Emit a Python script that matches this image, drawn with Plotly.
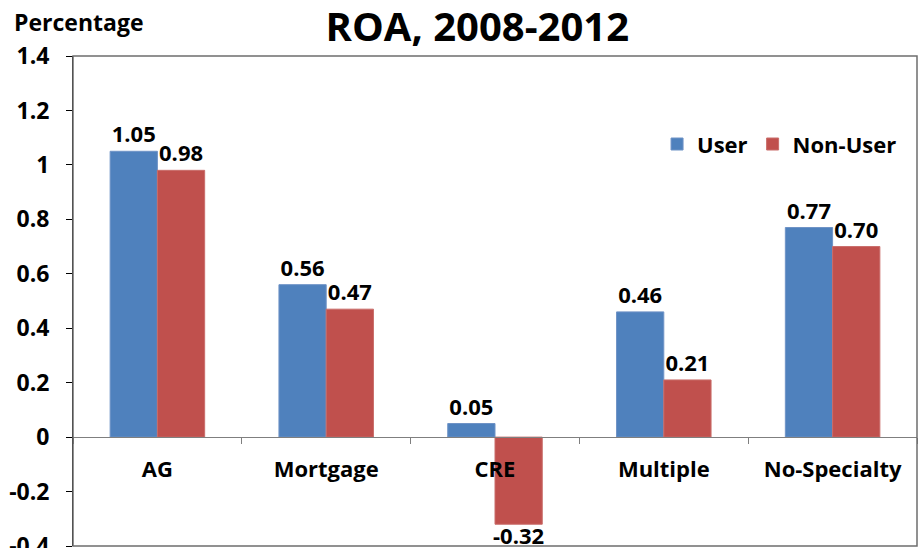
import plotly.graph_objects as go

# ROA by specialty group, 2008-2012
categories = ["AG", "Mortgage", "CRE", "Multiple", "No-Specialty"]
user_roa = [1.05, 0.56, 0.05, 0.46, 0.77]
nonuser_roa = [0.98, 0.47, -0.32, 0.21, 0.70]

y_min, y_max = -0.4, 1.4
y_ticks = [-0.4, -0.2, 0, 0.2, 0.4, 0.6, 0.8, 1, 1.2, 1.4]
y_tick_text = ["-0.4", "-0.2", "0", "0.2", "0.4", "0.6", "0.8", "1", "1.2", "1.4"]

FONT = "Open Sans"
BLUE = "#4F81BD"
RED = "#C0504D"
LABEL_SIZE = 22
BARGAP = 0.44

W, H = 918, 548
MARGIN = dict(l=73, r=1, t=56, b=2)


def bold(size):
    return dict(family=FONT, size=size, color="black", weight="bold")


def fmt(v):
    return f"{v:.2f}"


fig = go.Figure()
fig.add_trace(go.Bar(
    name="User", x=categories, y=user_roa,
    marker=dict(color=BLUE, line=dict(color="#6f93c6", width=1)),
    text=[fmt(v) for v in user_roa], textposition="outside",
    textfont=bold(LABEL_SIZE), cliponaxis=False, constraintext="none",
))
# negative values get their label as an annotation hugging the bar end,
# so it stays clear of the bottom edge
fig.add_trace(go.Bar(
    name="Non-User", x=categories, y=nonuser_roa,
    marker=dict(color=RED, line=dict(color="#c96d6a", width=1)),
    text=[fmt(v) if v >= 0 else "" for v in nonuser_roa], textposition="outside",
    textfont=bold(LABEL_SIZE), cliponaxis=False, constraintext="none",
))

plot_w = W - MARGIN["l"] - MARGIN["r"]
cat_w = plot_w / len(categories)
second_bar_offset = (1 - BARGAP) * cat_w / 4  # centre of 2nd bar in a group of 2

neg_labels = [
    dict(text=fmt(v), x=c, y=v, xref="x", yref="y", xshift=second_bar_offset,
         yanchor="top", yshift=6, showarrow=False, font=bold(LABEL_SIZE))
    for c, v in zip(categories, nonuser_roa) if v < 0
]

# category axis sits on the zero line
zero_pos = (0 - y_min) / (y_max - y_min)

fig.update_layout(
    width=W, height=H,
    margin=dict(**MARGIN, autoexpand=False),
    paper_bgcolor="white", plot_bgcolor="white",
    font=bold(LABEL_SIZE),
    barmode="group", bargap=BARGAP, bargroupgap=0,
    showlegend=True,
    legend=dict(orientation="h", x=0.692, y=0.82, xanchor="left", yanchor="middle",
                font=bold(LABEL_SIZE), bgcolor="rgba(0,0,0,0)",
                itemwidth=30, traceorder="normal"),
    title=dict(text="ROA, 2008-2012", x=0.52, xanchor="center", y=0.95, yanchor="middle",
               font=bold(40)),
    xaxis=dict(
        anchor="free", position=zero_pos, automargin=False,
        showline=True, linecolor="#7f7f7f", linewidth=1,
        ticks="outside", tickson="boundaries", ticklen=6, tickcolor="#7f7f7f",
        ticklabelstandoff=12,
        showgrid=False, zeroline=False,
        tickfont=bold(LABEL_SIZE),
        layer="above traces",
    ),
    yaxis=dict(
        range=[y_min, y_max], tickvals=y_ticks, ticktext=y_tick_text,
        automargin=False,
        showline=True, linecolor="black", linewidth=1,
        ticks="outside", ticklen=6, tickcolor="black",
        ticklabelstandoff=12,
        showgrid=False, zeroline=False, ticklabeloverflow="allow",
        tickfont=bold(23),
    ),
    shapes=[dict(type="rect", xref="x domain", yref="y domain", x0=0, x1=1, y0=0, y1=1,
                 line=dict(color="#6e6e6e", width=1.5), layer="above")],
    annotations=[dict(text="Percentage", xref="paper", yref="paper", x=-0.072, y=1.0,
                      xanchor="left", yanchor="bottom", yshift=16, showarrow=False,
                      font=bold(23))] + neg_labels,
)

fig.write_html("out.html")
